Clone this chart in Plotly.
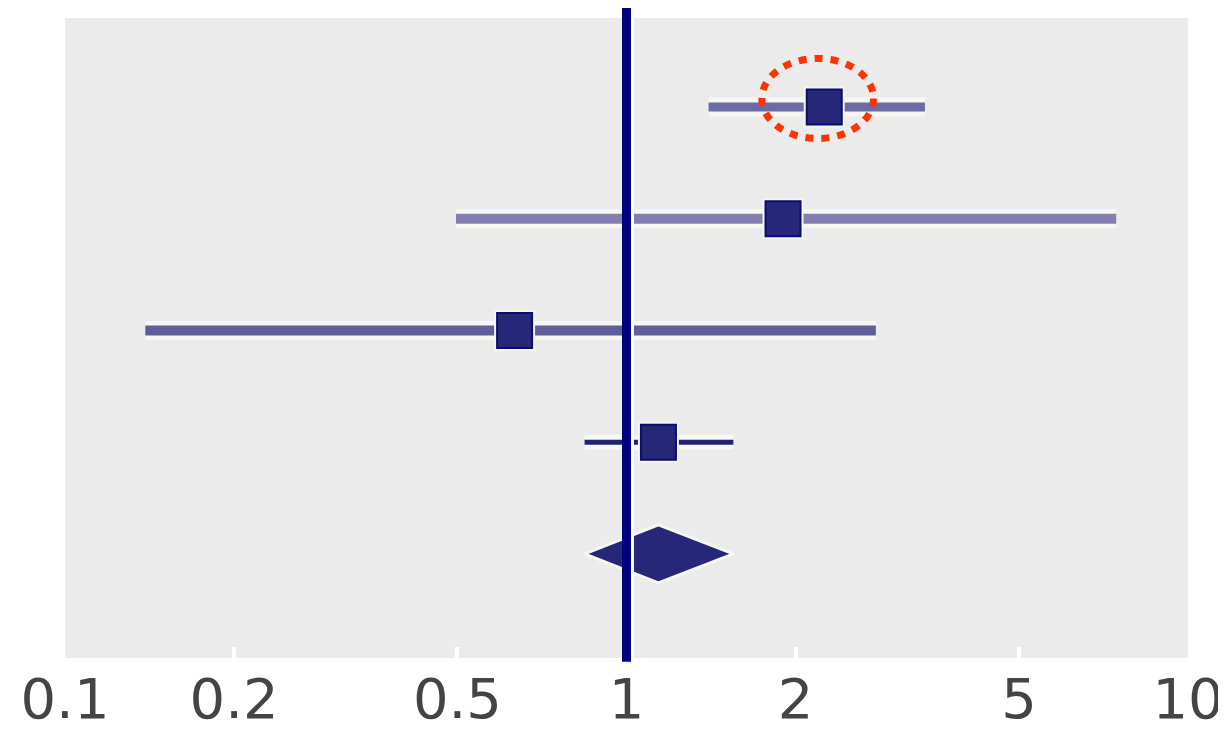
import plotly.graph_objects as go

# ---- data ----
studies = ["Study 1", "Study 2", "Study 3", "Study 4"]
rows = [5, 4, 3, 2]
estimate = [2.25, 1.90, 0.632, 1.14]
lower = [1.40, 0.497, 0.139, 0.842]
upper = [3.40, 7.45, 2.78, 1.55]

pooled_row = 1
pooled_est = 1.14
pooled_lo = 0.842
pooled_hi = 1.55

tick_vals = [0.1, 0.2, 0.5, 1, 2, 5, 10]
tick_text = ["0.1", "0.2", "0.5", "1", "2", "5", "10"]

# highlighted study (red dotted ring)
ring_center_x = 2.19
ring_center_y = 5.076

# ---- styles ----
ci_colors = ["#6B6BA6", "#847FB2", "#5E5E9A", "#222272"]
ci_widths = [9, 10, 10, 5]
glow_widths = [19, 19, 19, 15]
navy = "#000080"
box_fill = "#27277A"
box_line = "#0D0D6E"

fig = go.Figure()

# CI lines with white glow
for i in range(len(studies)):
    fig.add_trace(go.Scatter(
        x=[lower[i], upper[i]], y=[rows[i], rows[i]], mode="lines",
        line=dict(color="#F7F7F2", width=glow_widths[i]),
        hoverinfo="skip", showlegend=False))
for i in range(len(studies)):
    fig.add_trace(go.Scatter(
        x=[lower[i], upper[i]], y=[rows[i], rows[i]], mode="lines",
        line=dict(color=ci_colors[i], width=ci_widths[i]),
        name=studies[i], showlegend=False))

# pooled diamond
dh = 0.26
fig.add_trace(go.Scatter(
    x=[pooled_lo, pooled_est, pooled_hi, pooled_est, pooled_lo],
    y=[pooled_row, pooled_row + dh, pooled_row, pooled_row - dh, pooled_row],
    mode="lines", fill="toself", fillcolor=box_fill,
    line=dict(color="#F7F7F2", width=3), showlegend=False, hoverinfo="skip"))

# point estimate boxes with light halo
fig.add_trace(go.Scatter(
    x=estimate, y=rows, mode="markers",
    marker=dict(symbol="square", size=41, color="#F4F4F0", line=dict(width=0)),
    hoverinfo="skip", showlegend=False))
fig.add_trace(go.Scatter(
    x=estimate, y=rows, mode="markers", text=studies,
    marker=dict(symbol="square", size=35, color=box_fill,
                line=dict(color=box_line, width=2)),
    showlegend=False))

# reference line at 1 with white shadow
fig.add_shape(type="line", xref="x", yref="paper", x0=1.0205, x1=1.0205,
              y0=-0.006, y1=1.0, line=dict(color="white", width=5), layer="above")
fig.add_shape(type="line", xref="x", yref="paper", x0=1, x1=1,
              y0=-0.006, y1=1.016, line=dict(color=navy, width=9), layer="above")

# red dotted ring
rx_log = 0.0995
ry = 0.358
fig.add_shape(type="circle", xref="x", yref="y",
              x0=ring_center_x / 10 ** rx_log, x1=ring_center_x * 10 ** rx_log,
              y0=ring_center_y - ry, y1=ring_center_y + ry,
              line=dict(color="#FF3300", width=7, dash="8px,8px"), layer="above")

fig.update_layout(
    width=1226, height=735,
    margin=dict(l=57, r=46, t=10, b=85),
    paper_bgcolor="white", plot_bgcolor="#EBEBEB",
    showlegend=False,
    xaxis=dict(type="log", range=[-1, 1], tickvals=tick_vals, ticktext=tick_text,
               showgrid=False, zeroline=False, showline=False, automargin=False,
               ticks="inside", tickcolor="white", ticklen=11, tickwidth=4,
               ticklabelstandoff=3,
               tickfont=dict(family="DejaVu Sans", size=56, color="#444444")),
    yaxis=dict(range=[0.069, 5.796], showgrid=False, zeroline=False,
               showticklabels=False, showline=False, ticks="", automargin=False),
)

fig.write_html("out.html")
